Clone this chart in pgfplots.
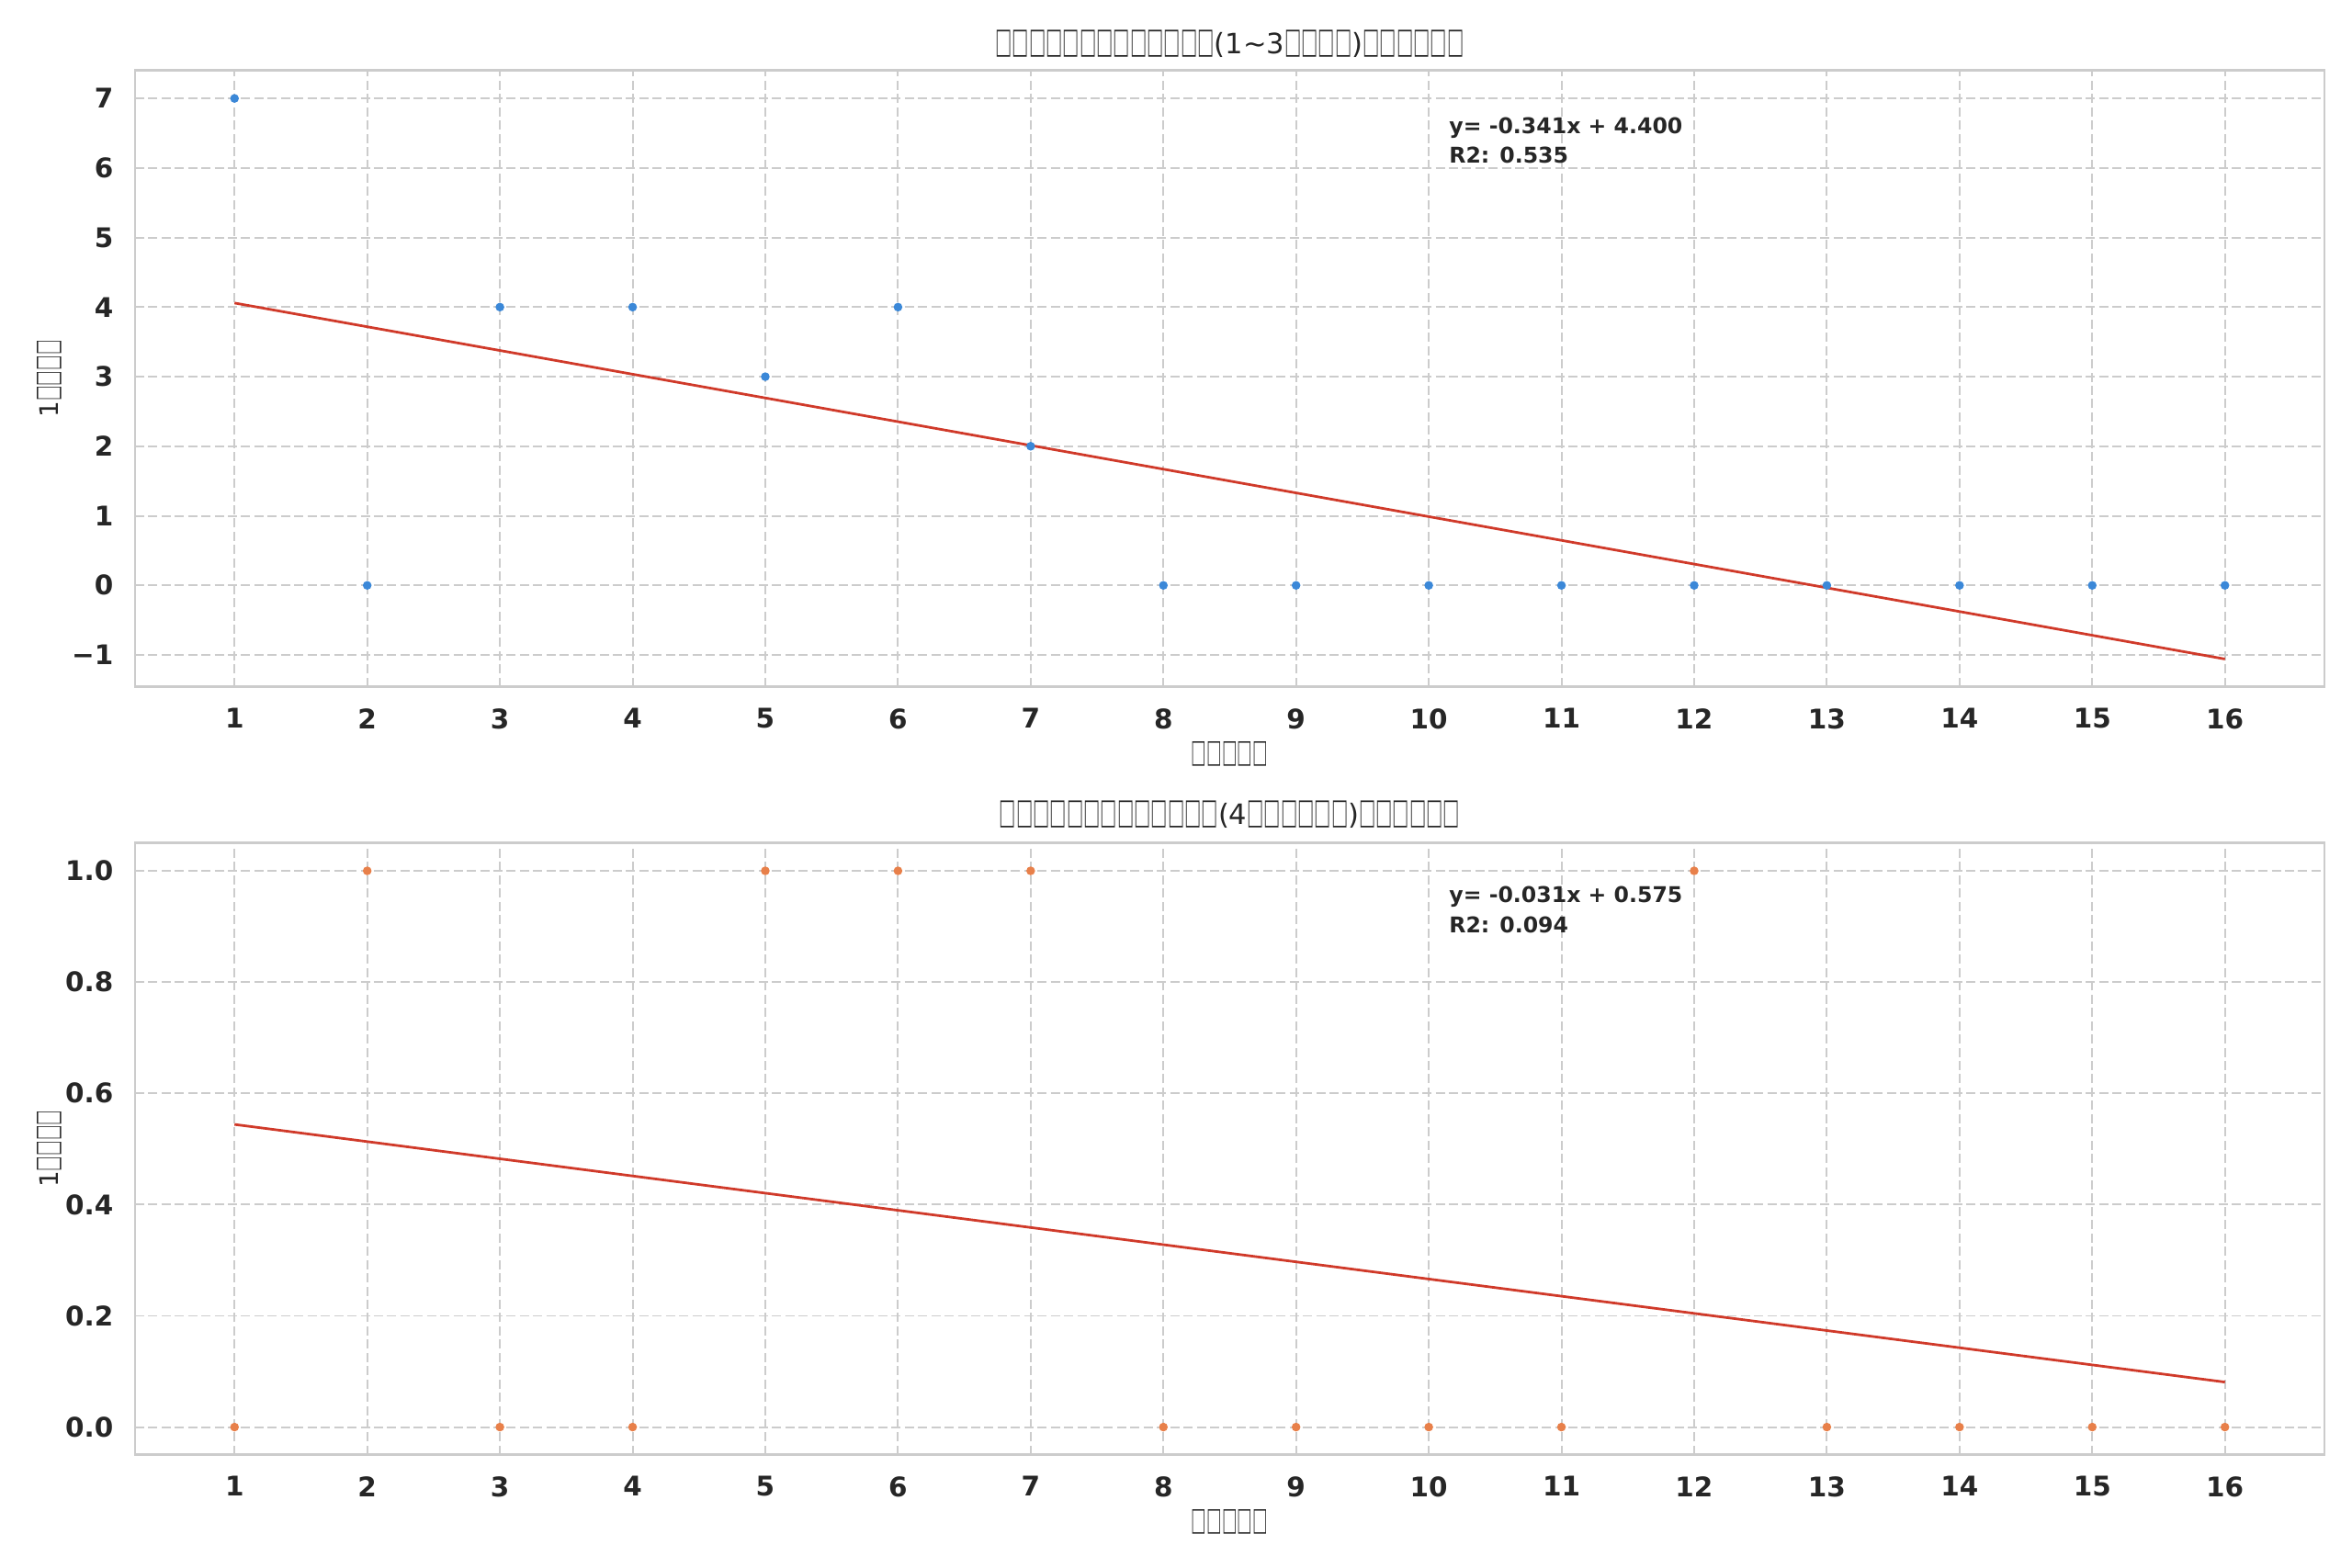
\documentclass[border=0pt]{standalone}
\usepackage{fontspec}
\setmainfont{DejaVu Sans}
\newfontfamily\cjk{Noto Sans CJK SC}
\usepackage{pgfplots}
\pgfplotsset{compat=1.18}
\definecolor{txt}{HTML}{262626}
\definecolor{gridc}{HTML}{CCCCCC}
\definecolor{ptblue}{HTML}{3B88D8}
\definecolor{ptorange}{HTML}{E8804A}
\definecolor{fitred}{HTML}{D03A2A}
\newcommand{\bx}{\raisebox{-0.1em}{\scalebox{0.6}[1.2]{\cjk\bfseries □}}}
\pgfplotsset{
 myax/.style={
  scale only axis, width=857.9pt,
  xmin=0.25, xmax=16.75, xtick={1,...,16},
  axis line style={gridc, line width=1pt},
  tick style={draw=none},
  major grid style={gridc, line width=0.7pt, dash pattern=on 3.6pt off 1.6pt},
  xmajorgrids, ymajorgrids,
  /pgf/number format/assume math mode=true,
  ticklabel style={font=\fontsize{10.6}{12}\selectfont\bfseries, text=txt, inner sep=0pt},
  xticklabel style={anchor=north, yshift=-8.3pt},
  yticklabel style={anchor=east, xshift=-8.3pt},
  label style={font=\fontsize{10}{12}\selectfont, text=txt},
  xlabel style={at={(axis description cs:0.5,0)}, anchor=center, yshift=-26.3pt},
  ylabel style={at={(axis description cs:0,0.5)}, anchor=center, yshift=33.5pt},
  title style={font=\fontsize{11}{13}\selectfont, text=txt, at={(axis description cs:0.5,1)}, anchor=center},
  xlabel={\bx\bx\bx\bx\bx},
  ylabel={1\bx\bx\bx\bx},
 }
}
\begin{document}
\begin{tikzpicture}
\useasboundingbox (-52.9pt,-44.3pt) rectangle (868.7pt,570.2pt);
% top panel
\begin{axis}[myax, at={(0,301pt)}, height=241.6pt,
  ymin=-1.459, ymax=7.403, ytick={-1,0,1,2,3,4,5,6,7},
  yticklabels={−1,0,1,2,3,4,5,6,7},
  title style={yshift=4.3pt},
  title={\bx\bx\bx\bx\bx\bx\bx\bx\bx\bx\bx\bx\bx(1\textasciitilde3\bx\bx\bx\bx)\bx\bx\bx\bx\bx\bx}]
\addplot[only marks, mark=*, mark size=1.5pt, mark options={draw=ptblue, fill=ptblue}] coordinates {
(1,7) (2,0) (3,4) (4,4) (5,3) (6,4) (7,2) (8,0) (9,0) (10,0) (11,0) (12,0) (13,0) (14,0) (15,0) (16,0)};
\addplot[fitred, line width=1pt, no markers] coordinates {(1,4.0588) (16,-1.0588)};
\node[anchor=north west, inner sep=0pt, align=left, text=txt, font=\fontsize{8.5}{11.8}\selectfont\bfseries] at (axis description cs:0.6,0.925) {y= -0.341x + 4.400\\R2: 0.535};
\end{axis}
% bottom panel
\begin{axis}[myax, at={(0,0)}, height=239.8pt,
  ymin=-0.05, ymax=1.05, ytick={0,0.2,0.4,0.6,0.8,1.0},
  yticklabels={0.0,0.2,0.4,0.6,0.8,1.0},
  title style={yshift=5.3pt},
  title={\bx\bx\bx\bx\bx\bx\bx\bx\bx\bx\bx\bx\bx(4\bx\bx\bx\bx\bx\bx)\bx\bx\bx\bx\bx\bx}]
\addplot[only marks, mark=*, mark size=1.5pt, mark options={draw=ptorange, fill=ptorange}] coordinates {
(1,0) (2,1) (3,0) (4,0) (5,1) (6,1) (7,1) (8,0) (9,0) (10,0) (11,0) (12,1) (13,0) (14,0) (15,0) (16,0)};
\addplot[fitred, line width=1pt, no markers] coordinates {(1,0.5441) (16,0.0809)};
\node[anchor=north west, inner sep=0pt, align=left, text=txt, font=\fontsize{8.5}{11.8}\selectfont\bfseries] at (axis description cs:0.6,0.93) {y= -0.031x + 0.575\\R2: 0.094};
\end{axis}
\end{tikzpicture}
\end{document}
